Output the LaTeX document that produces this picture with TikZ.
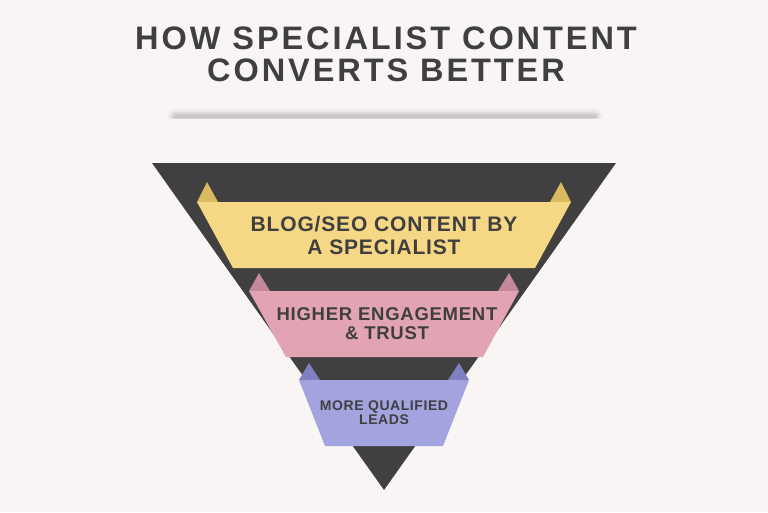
\documentclass[tikz,border=0pt]{standalone}
\usepackage{fontspec}
\setmainfont{Liberation Sans}
\newfontfamily\titlefont[LetterSpace=9]{Liberation Sans}
\newfontfamily\ribbonfont[LetterSpace=4]{Liberation Sans}
\usetikzlibrary{positioning}
\definecolor{bgpaper}{HTML}{F8F5F4}
\definecolor{funneldark}{HTML}{404040}
\definecolor{textdark}{HTML}{3F3F3F}
\definecolor{ribyellow}{HTML}{F6D785}
\definecolor{tabyellow}{HTML}{D9BA60}
\definecolor{ribpink}{HTML}{E2A4B3}
\definecolor{tabpink}{HTML}{C4889A}
\definecolor{ribblue}{HTML}{A3A3E0}
\definecolor{tabblue}{HTML}{7F7FC2}
\tikzset{
title_text/.style={
	% Heading in wide caps
	font=\titlefont\bfseries\fontsize{32.5}{32}\selectfont,
	text=textdark, align=center
},
rib_text/.style={
	font=\ribbonfont\bfseries, text=textdark, align=center
}
}
% \ribbon{ytop}{ybot}{xtl}{xtr}{xbl}{xbr}{ytab}{fill}{tab}
\newcommand{\ribbon}[9]{
	\fill[#9] (#3,#1) -- (#3+10,#7) -- (#3+21,#1) -- cycle;
	\fill[#9] (#4-21,#1) -- (#4-10,#7) -- (#4,#1) -- cycle;
	\fill[#8] (#3,#1) -- (#4,#1) -- (#6,#2) -- (#5,#2) -- cycle;
}
\begin{document}
\begin{tikzpicture}[x=1pt,y=-1pt]
	\fill[bgpaper] (0,0) rectangle (768,512);
	\useasboundingbox (0,0) rectangle (768,512);
	% title
	\node[title_text] (head) at (386,54) {HOW SPECIALIST CONTENT\\CONVERTS BETTER};
	% soft shadow bar
	\foreach \w/\o in {16/0.02,12/0.03,9/0.04,6/0.05,3/0.06}
		\draw[line width=\w pt,black,opacity=\o,line cap=round] (175,116) -- (595,116);
	\fill[bgpaper] (140,119) rectangle (630,135);
	% funnel
	\fill[funneldark] (152,163) -- (616,163) -- (384,490) -- cycle;
	% ribbons
	\ribbon{202}{268}{197}{571}{233}{535}{182}{ribyellow}{tabyellow}
	\ribbon{291}{357}{249}{519}{286}{483}{273}{ribpink}{tabpink}
	\ribbon{380}{446}{299}{469}{325}{443}{363}{ribblue}{tabblue}
	\node[rib_text,font=\ribbonfont\bfseries\fontsize{21}{23}\selectfont] (blog) at (384,235) {BLOG/SEO CONTENT BY\\A SPECIALIST};
	\node[rib_text,font=\ribbonfont\bfseries\fontsize{18.5}{19}\selectfont] (trust) at (387,324) {HIGHER ENGAGEMENT\\\& TRUST};
	\node[rib_text,font=\ribbonfont\bfseries\fontsize{14}{14}\selectfont] (leads) at (384,413) {MORE QUALIFIED\\LEADS};
\end{tikzpicture}
\end{document}
